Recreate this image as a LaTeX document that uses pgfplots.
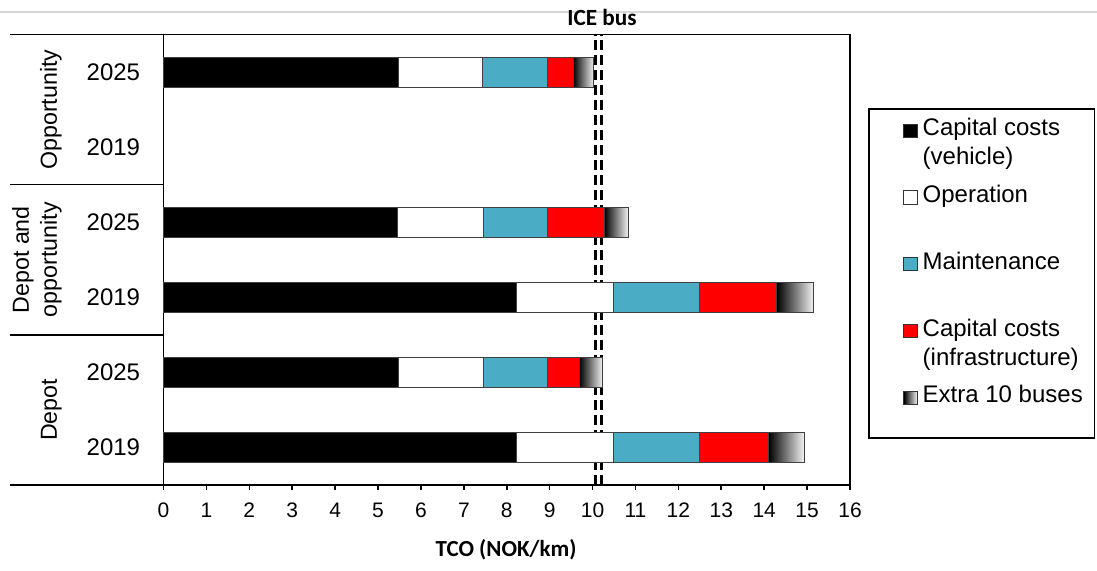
\documentclass[border=0pt]{standalone}
\usepackage{pgfplots}
\pgfplotsset{compat=1.18}
\usepackage{fontspec}
\setmainfont{Liberation Sans}
\newfontfamily\carlito{Carlito}
\definecolor{maint}{HTML}{4BACC6}
\definecolor{infra}{HTML}{FF0000}
\pgfplotstableread{
s     y  len
14.10 0  0.83
9.69  1  0.54
14.29 2  0.86
10.27 3  0.56
9.55  5  0.48
}\extratable
\begin{document}
\begin{tikzpicture}
\useasboundingbox (0,0) rectangle (548.5pt,-285pt);
\draw[black!15, line width=0.6pt] (0,-6pt) -- (548.5pt,-6pt);
\begin{axis}[
  at={(81.75pt,-242.5pt)}, anchor=south west,
  width=343.25pt, height=225.25pt, scale only axis,
  xbar stacked, bar width=0.4,
  legend image code/.code={%
    \path[draw=none, fill=none] (0pt,1.2pt) rectangle (0.01pt,1.21pt);
    \draw[#1, draw=black!80, line width=0.5pt] (17.6pt,1.2pt) rectangle (24.2pt,7.8pt);},
  xmin=0, xmax=16, ymin=-0.5, ymax=5.5,
  xtick={0,...,16},
  ytick={0,...,5},
  yticklabels={2019,2025,2019,2025,2019,2025},
  axis line style={line width=0.8pt},
  tick align=outside, xtick pos=bottom, ytick pos=left,
  major tick length=2.5pt,
  x tick style={line width=0.8pt, black},
  y tick style={draw=none},
  xticklabel style={font=\fontsize{10.5}{12}\selectfont, yshift=-3pt},
  yticklabel style={font=\fontsize{12}{14}\selectfont, anchor=east, inner sep=0pt, xshift=-9pt},
  /pgf/number format/assume math mode=true,
  clip=false,
  xlabel={\carlito\bfseries TCO (NOK/km)},
  xlabel style={font=\fontsize{11.5}{13}\selectfont, at={(axis description cs:0.499,-0.1443)}, anchor=center},
  legend cell align=left,
  legend style={at={(1.0262,0.8369)}, anchor=north west, draw=black, line width=0.8pt,
    inner xsep=0pt, inner ysep=4.7pt, row sep=11.8pt, column sep=2.5pt,
    font=\fontsize{12}{14.5}\selectfont,
    nodes={inner sep=0pt, text height=8.8pt, text depth=12.8pt}},
]
\addplot[fill=black, draw=black!75, line width=0.4pt] coordinates {(8.22,0) (5.47,1) (8.22,2) (5.45,3) (5.47,5)};
\addlegendentry{\parbox[t]{86pt}{Capital costs\\(vehicle)}}
\addplot[fill=white, draw=black!75, line width=0.4pt] coordinates {(2.26,0) (1.98,1) (2.26,2) (2.00,3) (1.97,5)};
\addlegendentry{\parbox[t]{86pt}{Operation}}
\addplot[fill=maint, draw=black!75, line width=0.4pt] coordinates {(2.01,0) (1.50,1) (2.01,2) (1.50,3) (1.50,5)};
\addlegendentry{\parbox[t]{86pt}{Maintenance}}
\addplot[fill=infra, draw=black!75, line width=0.4pt] coordinates {(1.61,0) (0.74,1) (1.80,2) (1.32,3) (0.61,5)};
\addlegendentry{\parbox[t]{86pt}{Capital costs\\(infrastructure)}}
% Extra 10 buses: one shaded bar per row, starting where the stack ends
\addplot[stack plots=false, only marks, scatter, mark=*, mark size=0pt,
  mark options={draw=none, fill=none},
  visualization depends on={\thisrow{len} \as \barlen},
  scatter/@pre marker code/.code={%
    \shade[left color=black, right color=black!5, draw=black!75, line width=0.4pt]
      (0pt,-7.5pt) rectangle ({\barlen*21.453125pt},7.5pt);},
  scatter/@post marker code/.code={},
  legend image code/.code={%
    \path[draw=none, fill=none] (0pt,1.2pt) rectangle (0.01pt,1.21pt);
    \shade[left color=black, right color=black!5, draw=black!80, line width=0.5pt] (17.6pt,1.2pt) rectangle (24.2pt,7.8pt);},
] table[x=s, y=y] {\extratable};
\addlegendentry{\parbox[t]{86pt}{Extra 10 buses}}
\addplot[sharp plot, stack plots=false, forget plot, black, line width=1.5pt, dash pattern=on 5pt off 2.5pt] coordinates {(10.06,-0.5) (10.06,5.5)};
\addplot[sharp plot, stack plots=false, forget plot, black, line width=1.5pt, dash pattern=on 5pt off 2.5pt] coordinates {(10.21,-0.5) (10.21,5.5)};
% group separators
\draw[line width=0.8pt] (axis cs:0,5.5) -- ++(-76.75pt,0pt);
\draw[line width=0.8pt] (axis cs:0,3.5) -- ++(-76.75pt,0pt);
\draw[line width=0.8pt] (axis cs:0,1.5) -- ++(-76.75pt,0pt);
\draw[line width=0.8pt] (axis cs:0,-0.5) -- ++(-76.75pt,0pt);
\node[rotate=90, anchor=south, inner sep=0pt, font=\fontsize{11.6}{14}\selectfont] at ([xshift=-50.75pt]axis cs:0,4.5) {Opportunity};
\node[rotate=90, anchor=south, inner sep=0pt, align=center, font=\fontsize{11.6}{14}\selectfont] at ([xshift=-50.75pt]axis cs:0,2.5) {Depot and\\opportunity};
\node[rotate=90, anchor=south, inner sep=0pt, font=\fontsize{11.6}{14}\selectfont] at ([xshift=-50.75pt]axis cs:0,0.5) {Depot};
\end{axis}
\node[font=\carlito\bfseries\fontsize{11.6}{13}\selectfont, anchor=center] at (301pt,-8.8pt) {ICE bus};
\end{tikzpicture}
\end{document}
